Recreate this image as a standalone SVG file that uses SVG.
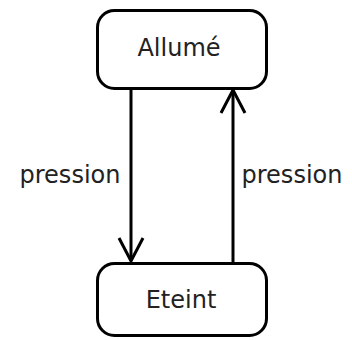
<svg xmlns="http://www.w3.org/2000/svg" width="352" height="340" viewBox="0 0 352 340">
<style>
.node rect{fill:#fff;stroke:#000;stroke-width:3}
.lbl{font-family:"DejaVu Sans",sans-serif;font-size:24px;fill:#222}
.edge{stroke:#000;stroke-width:3;fill:none}
.head{stroke:#000;stroke-width:3;fill:none;stroke-linejoin:miter}
</style>
<rect width="352" height="340" fill="#fff"/>
<g id="connectors">
<g id="e1">
<line class="edge" x1="131" y1="88" x2="131" y2="261"/>
<polyline class="head" points="119,238 131,261 143,238"/>
<text class="lbl" x="70" y="183" text-anchor="middle">pression</text>
</g>
<g id="e2">
<line class="edge" x1="233" y1="263" x2="233" y2="90"/>
<polyline class="head" points="221,113 233,90 245,113"/>
<text class="lbl" x="292" y="183" text-anchor="middle">pression</text>
</g>
</g>
<g id="allume" class="node">
<rect x="97.5" y="10.5" width="169" height="78" rx="17"/>
<text class="lbl" x="179" y="56" text-anchor="middle">Allumé</text>
</g>
<g id="eteint" class="node">
<rect x="97.5" y="263.5" width="169" height="72" rx="17"/>
<text class="lbl" x="181" y="308" text-anchor="middle">Eteint</text>
</g>
</svg>
